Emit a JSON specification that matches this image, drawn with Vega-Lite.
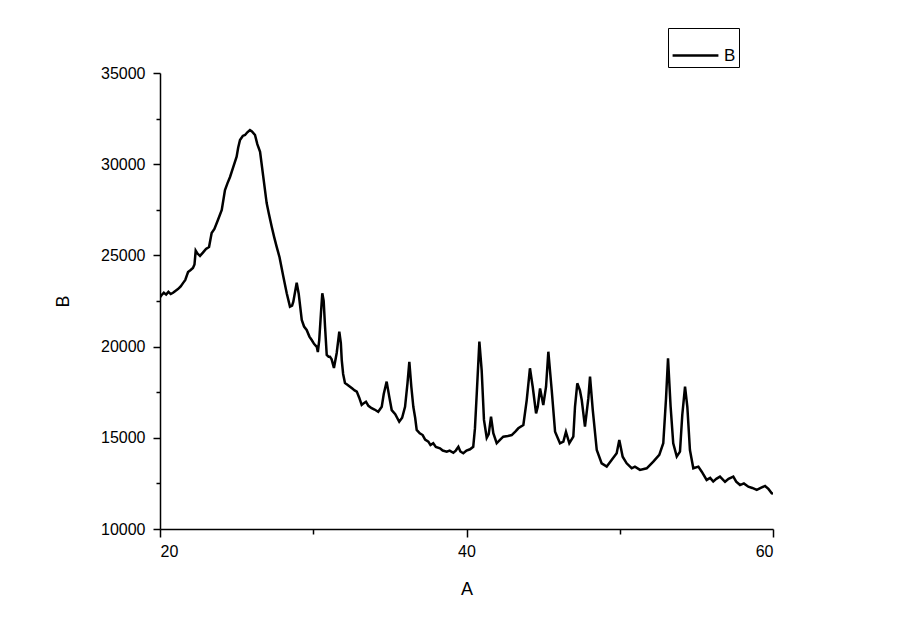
{
  "$schema": "https://vega.github.io/schema/vega-lite/v6.json",
  "width": 613,
  "height": 456,
  "autosize": {"type": "none"},
  "padding": {"left": 160, "top": 73, "right": 126, "bottom": 107},
  "background": "white",
  "config": {
    "view": {"stroke": null},
    "font": "Liberation Sans",
    "axis": {"grid": false, "domainColor": "black", "tickColor": "black", "labelColor": "black", "titleColor": "black", "domainWidth": 1.5, "tickWidth": 1.5, "labelFont": "Liberation Sans", "titleFont": "Liberation Sans", "labelFontSize": 16, "titleFontSize": 18, "titleFontWeight": "normal"}
  },
  "data": {"values": [
    {"A":20.00,"B":22700},{"A":20.11,"B":22830},{"A":20.25,"B":22950},{"A":20.40,"B":22850},{"A":20.55,"B":23000},{"A":20.70,"B":22880},{"A":20.85,"B":22950},{"A":21.00,"B":23050},{"A":21.17,"B":23150},{"A":21.35,"B":23300},{"A":21.50,"B":23480},{"A":21.65,"B":23650},{"A":21.83,"B":24090},{"A":22.00,"B":24200},{"A":22.15,"B":24310},{"A":22.25,"B":24500},{"A":22.33,"B":25260},{"A":22.45,"B":25100},{"A":22.61,"B":24970},{"A":22.80,"B":25150},{"A":23.00,"B":25350},{"A":23.20,"B":25460},{"A":23.37,"B":26230},{"A":23.55,"B":26450},{"A":23.78,"B":26940},{"A":24.03,"B":27490},{"A":24.24,"B":28580},{"A":24.40,"B":28950},{"A":24.57,"B":29300},{"A":24.80,"B":29900},{"A":25.00,"B":30410},{"A":25.10,"B":30900},{"A":25.22,"B":31330},{"A":25.40,"B":31550},{"A":25.55,"B":31600},{"A":25.70,"B":31750},{"A":25.87,"B":31870},{"A":26.00,"B":31800},{"A":26.20,"B":31600},{"A":26.35,"B":31100},{"A":26.53,"B":30680},{"A":26.74,"B":29310},{"A":26.96,"B":27870},{"A":27.10,"B":27300},{"A":27.29,"B":26570},{"A":27.45,"B":26000},{"A":27.61,"B":25480},{"A":27.80,"B":24900},{"A":28.05,"B":23830},{"A":28.27,"B":22920},{"A":28.48,"B":22190},{"A":28.62,"B":22250},{"A":28.70,"B":22460},{"A":28.92,"B":23500},{"A":29.05,"B":22900},{"A":29.25,"B":21460},{"A":29.40,"B":21100},{"A":29.57,"B":20910},{"A":29.75,"B":20550},{"A":29.90,"B":20360},{"A":30.05,"B":20150},{"A":30.23,"B":19990},{"A":30.30,"B":19700},{"A":30.39,"B":20360},{"A":30.50,"B":21800},{"A":30.59,"B":22920},{"A":30.68,"B":22500},{"A":30.77,"B":21090},{"A":30.88,"B":19540},{"A":31.00,"B":19450},{"A":31.09,"B":19450},{"A":31.20,"B":19300},{"A":31.35,"B":18830},{"A":31.53,"B":19650},{"A":31.70,"B":20820},{"A":31.80,"B":20200},{"A":31.86,"B":19260},{"A":31.95,"B":18500},{"A":32.07,"B":18000},{"A":32.25,"B":17900},{"A":32.40,"B":17800},{"A":32.55,"B":17700},{"A":32.70,"B":17600},{"A":32.84,"B":17530},{"A":33.00,"B":17200},{"A":33.16,"B":16800},{"A":33.30,"B":16900},{"A":33.44,"B":16980},{"A":33.60,"B":16750},{"A":33.81,"B":16620},{"A":34.00,"B":16550},{"A":34.24,"B":16430},{"A":34.47,"B":16700},{"A":34.60,"B":17400},{"A":34.79,"B":18080},{"A":34.95,"B":17300},{"A":35.12,"B":16520},{"A":35.35,"B":16300},{"A":35.61,"B":15880},{"A":35.80,"B":16100},{"A":35.99,"B":16700},{"A":36.15,"B":18000},{"A":36.27,"B":19170},{"A":36.40,"B":17800},{"A":36.53,"B":16700},{"A":36.65,"B":16100},{"A":36.75,"B":15430},{"A":36.95,"B":15250},{"A":37.14,"B":15150},{"A":37.30,"B":14900},{"A":37.51,"B":14790},{"A":37.65,"B":14600},{"A":37.83,"B":14700},{"A":38.00,"B":14500},{"A":38.27,"B":14420},{"A":38.45,"B":14300},{"A":38.71,"B":14240},{"A":38.90,"B":14300},{"A":39.14,"B":14180},{"A":39.30,"B":14300},{"A":39.47,"B":14510},{"A":39.60,"B":14250},{"A":39.79,"B":14150},{"A":40.00,"B":14300},{"A":40.23,"B":14370},{"A":40.44,"B":14510},{"A":40.55,"B":15500},{"A":40.67,"B":17440},{"A":40.84,"B":20270},{"A":40.99,"B":18700},{"A":41.14,"B":15980},{"A":41.32,"B":15000},{"A":41.45,"B":15200},{"A":41.60,"B":16160},{"A":41.75,"B":15250},{"A":41.97,"B":14700},{"A":42.20,"B":14900},{"A":42.40,"B":15060},{"A":42.70,"B":15100},{"A":42.95,"B":15150},{"A":43.20,"B":15350},{"A":43.38,"B":15520},{"A":43.71,"B":15700},{"A":43.93,"B":17070},{"A":44.14,"B":18810},{"A":44.32,"B":17800},{"A":44.54,"B":16340},{"A":44.65,"B":16700},{"A":44.80,"B":17710},{"A":45.01,"B":16800},{"A":45.19,"B":17800},{"A":45.34,"B":19720},{"A":45.56,"B":17620},{"A":45.78,"B":15330},{"A":46.10,"B":14700},{"A":46.32,"B":14790},{"A":46.49,"B":15330},{"A":46.71,"B":14700},{"A":46.97,"B":15060},{"A":47.08,"B":16700},{"A":47.23,"B":17990},{"A":47.40,"B":17600},{"A":47.52,"B":17070},{"A":47.73,"B":15610},{"A":47.95,"B":17160},{"A":48.06,"B":18350},{"A":48.24,"B":16520},{"A":48.50,"B":14330},{"A":48.82,"B":13600},{"A":49.15,"B":13420},{"A":49.47,"B":13780},{"A":49.80,"B":14150},{"A":49.97,"B":14880},{"A":50.19,"B":13960},{"A":50.45,"B":13600},{"A":50.78,"B":13330},{"A":50.99,"B":13420},{"A":51.32,"B":13240},{"A":51.76,"B":13330},{"A":52.19,"B":13690},{"A":52.58,"B":14060},{"A":52.84,"B":14700},{"A":53.02,"B":17160},{"A":53.15,"B":19360},{"A":53.32,"B":16700},{"A":53.49,"B":14700},{"A":53.72,"B":13970},{"A":53.93,"B":14240},{"A":54.08,"B":16250},{"A":54.26,"B":17800},{"A":54.41,"B":16700},{"A":54.58,"B":14330},{"A":54.80,"B":13330},{"A":55.13,"B":13420},{"A":55.35,"B":13140},{"A":55.67,"B":12690},{"A":55.90,"B":12800},{"A":56.10,"B":12600},{"A":56.30,"B":12750},{"A":56.54,"B":12870},{"A":56.87,"B":12590},{"A":57.10,"B":12750},{"A":57.41,"B":12870},{"A":57.60,"B":12600},{"A":57.85,"B":12410},{"A":58.10,"B":12500},{"A":58.39,"B":12320},{"A":58.65,"B":12250},{"A":58.94,"B":12140},{"A":59.20,"B":12250},{"A":59.48,"B":12360},{"A":59.70,"B":12200},{"A":59.92,"B":11960},{"A":60.00,"B":11950}
  ]},
  "layer": [
    {
      "mark": {"type": "line", "strokeWidth": 2.5, "color": "black", "clip": true},
      "encoding": {
        "x": {"field": "A", "type": "quantitative", "scale": {"domain": [20, 60], "nice": false, "zero": false},
              "axis": {"orient": "bottom", "values": [20, 40, 60], "tickSize": 8, "labelPadding": 6, "title": "A", "titlePadding": 21}},
        "y": {"field": "B", "type": "quantitative", "scale": {"domain": [10000, 35000], "nice": false, "zero": false},
              "axis": {"orient": "left", "values": [10000, 15000, 20000, 25000, 30000, 35000], "format": "d", "tickSize": 7, "labelPadding": 8, "title": "B", "titlePadding": 28}},
        "color": {"datum": "B", "type": "nominal", "scale": {"range": ["black"]},
                  "legend": {"title": null, "orient": "none", "legendX": 508, "legendY": -45, "strokeColor": "black", "padding": 3, "symbolType": "stroke", "symbolSize": 2100, "symbolStrokeWidth": 2.5, "labelFontSize": 17, "labelFont": "Liberation Sans", "labelColor": "black"}}
      }
    },
    {
      "mark": {"type": "line", "opacity": 0},
      "encoding": {
        "x": {"field": "A", "type": "quantitative", "scale": {"domain": [20, 60], "nice": false, "zero": false},
              "axis": {"orient": "bottom", "values": [30, 50], "tickSize": 5, "labels": false, "domain": false, "title": null}},
        "y": {"field": "B", "type": "quantitative", "scale": {"domain": [10000, 35000], "nice": false, "zero": false},
              "axis": {"orient": "left", "values": [12500, 17500, 22500, 27500, 32500], "tickSize": 4, "labels": false, "domain": false, "title": null}}
      }
    }
  ],
  "resolve": {"axis": {"x": "independent", "y": "independent"}}
}
